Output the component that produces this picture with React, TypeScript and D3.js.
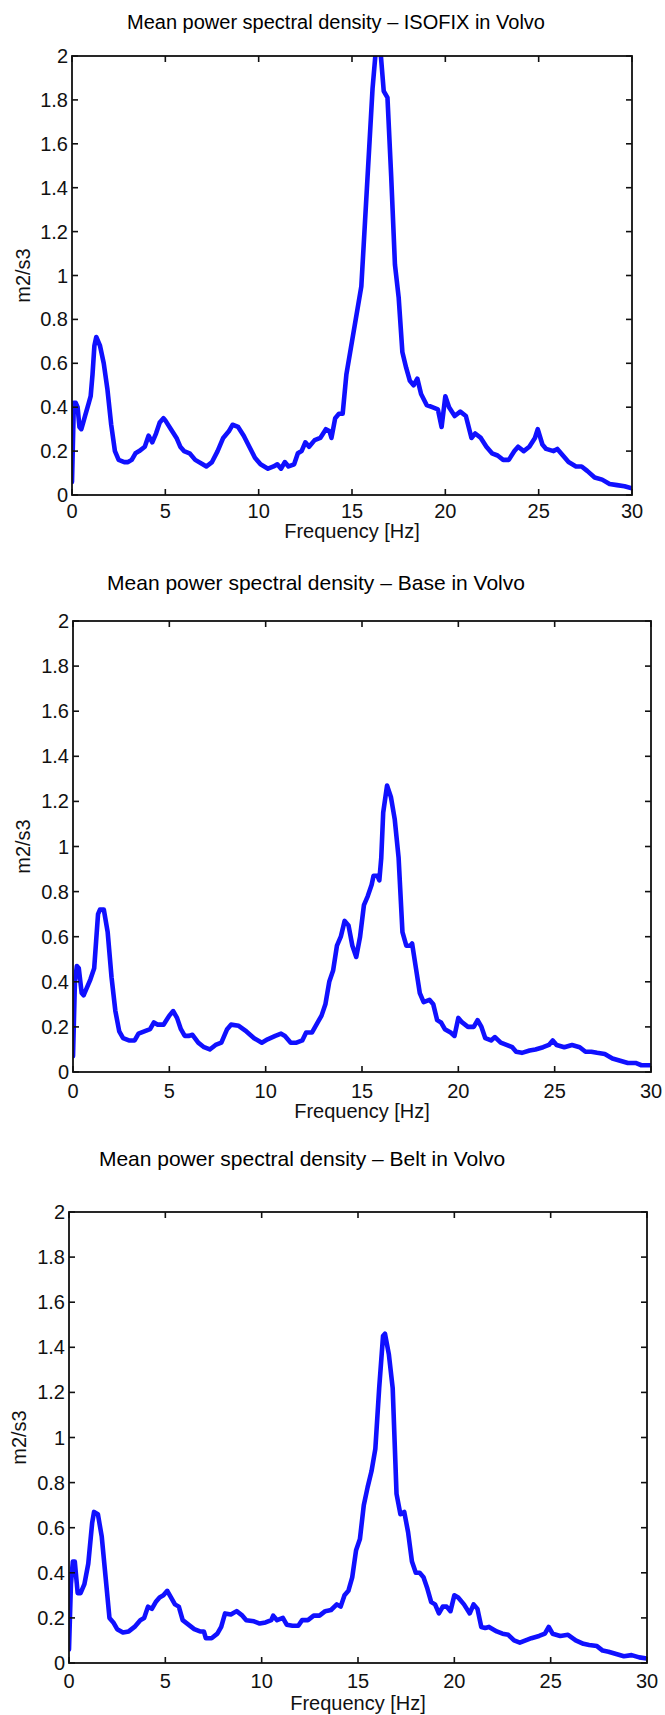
import React from "react";
import * as d3 from "d3";

// ---------- data ----------
const xTicks = [0, 5, 10, 15, 20, 25, 30];
const yTicks = [0, 0.2, 0.4, 0.6, 0.8, 1, 1.2, 1.4, 1.6, 1.8, 2];
const titles = [
  "Mean power spectral density \u2013 ISOFIX in Volvo",
  "Mean power spectral density \u2013 Base in Volvo",
  "Mean power spectral density \u2013 Belt in Volvo",
];
const xLabel = "Frequency [Hz]";
const yLabel = "m2/s3";

const isofixFreq = [0, 0.1, 0.2, 0.3, 0.4, 0.5, 0.6, 0.7, 0.9, 1.0, 1.1, 1.2, 1.3, 1.5, 1.7, 1.9, 2.1, 2.3, 2.5, 2.8, 3.0, 3.2, 3.4, 3.6, 3.9, 4.1, 4.3, 4.5, 4.7, 4.9, 5.0, 5.3, 5.6, 5.8, 6.0, 6.3, 6.6, 7.0, 7.2, 7.5, 7.8, 8.1, 8.4, 8.6, 8.9, 9.2, 9.5, 9.8, 10.1, 10.5, 10.8, 11.0, 11.2, 11.4, 11.6, 11.9, 12.1, 12.3, 12.5, 12.7, 13.0, 13.3, 13.6, 13.8, 13.9, 14.1, 14.3, 14.5, 14.7, 15.0, 15.3, 15.5, 15.7, 15.9, 16.1, 16.3, 16.5, 16.7, 16.9, 17.1, 17.3, 17.5, 17.7, 17.9, 18.1, 18.3, 18.5, 18.7, 19.0, 19.3, 19.6, 19.8, 20.0, 20.2, 20.5, 20.8, 21.1, 21.4, 21.6, 21.9, 22.2, 22.5, 22.8, 23.1, 23.4, 23.7, 23.9, 24.2, 24.5, 24.8, 24.95, 25.2, 25.4, 25.8, 26.0, 26.3, 26.6, 27.0, 27.3, 27.6, 28.0, 28.4, 28.8, 29.2, 29.6, 30.0];
const isofixPsd = [0.06, 0.42, 0.42, 0.40, 0.31, 0.30, 0.33, 0.36, 0.42, 0.45, 0.55, 0.68, 0.72, 0.68, 0.60, 0.48, 0.32, 0.20, 0.16, 0.15, 0.15, 0.16, 0.19, 0.20, 0.22, 0.27, 0.24, 0.28, 0.33, 0.35, 0.34, 0.30, 0.26, 0.22, 0.20, 0.19, 0.16, 0.14, 0.13, 0.15, 0.20, 0.26, 0.29, 0.32, 0.31, 0.27, 0.22, 0.17, 0.14, 0.12, 0.13, 0.14, 0.12, 0.15, 0.13, 0.14, 0.19, 0.20, 0.24, 0.22, 0.25, 0.26, 0.30, 0.29, 0.26, 0.35, 0.37, 0.37, 0.55, 0.70, 0.85, 0.95, 1.25, 1.55, 1.85, 2.05, 2.05, 1.84, 1.81, 1.45, 1.05, 0.90, 0.65, 0.58, 0.52, 0.50, 0.53, 0.46, 0.41, 0.40, 0.39, 0.31, 0.45, 0.40, 0.36, 0.38, 0.36, 0.26, 0.28, 0.26, 0.22, 0.19, 0.18, 0.16, 0.16, 0.20, 0.22, 0.20, 0.22, 0.26, 0.30, 0.23, 0.21, 0.20, 0.21, 0.18, 0.15, 0.13, 0.13, 0.11, 0.08, 0.07, 0.05, 0.045, 0.04, 0.03];

const baseFreq = [0, 0.1, 0.2, 0.3, 0.45, 0.55, 0.7, 0.9, 1.1, 1.2, 1.3, 1.4, 1.6, 1.8, 2.0, 2.2, 2.4, 2.6, 2.9, 3.2, 3.4, 3.7, 4.0, 4.2, 4.4, 4.7, 5.0, 5.2, 5.4, 5.6, 5.8, 6.0, 6.2, 6.5, 6.8, 7.1, 7.4, 7.7, 8.0, 8.2, 8.6, 9.0, 9.4, 9.8, 10.1, 10.5, 10.8, 11.0, 11.3, 11.6, 11.9, 12.1, 12.4, 12.7, 12.9, 13.1, 13.3, 13.5, 13.7, 13.9, 14.1, 14.3, 14.5, 14.7, 14.9, 15.1, 15.3, 15.5, 15.6, 15.8, 15.9, 16.0, 16.1, 16.3, 16.5, 16.7, 16.9, 17.1, 17.3, 17.5, 17.6, 17.8, 18.0, 18.2, 18.5, 18.7, 18.9, 19.1, 19.3, 19.6, 19.8, 20.0, 20.2, 20.5, 20.8, 21.0, 21.2, 21.4, 21.7, 21.9, 22.2, 22.5, 22.8, 23.0, 23.3, 23.7, 24.0, 24.4, 24.7, 24.9, 25.1, 25.5, 25.9, 26.3, 26.6, 26.9, 27.2, 27.6, 28.0, 28.4, 28.8, 29.2, 29.5, 30.0];
const basePsd = [0.07, 0.40, 0.47, 0.46, 0.35, 0.34, 0.37, 0.41, 0.46, 0.58, 0.70, 0.72, 0.72, 0.62, 0.42, 0.27, 0.18, 0.15, 0.14, 0.14, 0.17, 0.18, 0.19, 0.22, 0.21, 0.21, 0.25, 0.27, 0.24, 0.19, 0.16, 0.16, 0.165, 0.13, 0.11, 0.10, 0.12, 0.13, 0.19, 0.21, 0.205, 0.18, 0.15, 0.13, 0.145, 0.16, 0.17, 0.16, 0.13, 0.13, 0.14, 0.175, 0.175, 0.22, 0.25, 0.30, 0.40, 0.45, 0.56, 0.60, 0.67, 0.65, 0.56, 0.51, 0.60, 0.74, 0.78, 0.83, 0.87, 0.87, 0.85, 0.95, 1.15, 1.27, 1.22, 1.12, 0.95, 0.62, 0.56, 0.56, 0.57, 0.46, 0.35, 0.31, 0.32, 0.30, 0.23, 0.22, 0.19, 0.175, 0.16, 0.24, 0.22, 0.20, 0.20, 0.23, 0.20, 0.15, 0.14, 0.155, 0.13, 0.12, 0.11, 0.09, 0.085, 0.095, 0.10, 0.11, 0.12, 0.14, 0.12, 0.11, 0.12, 0.11, 0.09, 0.09, 0.085, 0.08, 0.06, 0.05, 0.04, 0.04, 0.03, 0.03];

const beltFreq = [0, 0.1, 0.2, 0.3, 0.45, 0.6, 0.8, 1.0, 1.2, 1.3, 1.5, 1.7, 1.9, 2.1, 2.3, 2.5, 2.8, 3.1, 3.4, 3.7, 3.9, 4.1, 4.3, 4.5, 4.7, 4.9, 5.1, 5.3, 5.5, 5.7, 5.9, 6.2, 6.5, 6.8, 7.0, 7.1, 7.4, 7.7, 7.9, 8.1, 8.4, 8.7, 9.0, 9.2, 9.6, 9.9, 10.2, 10.5, 10.6, 10.8, 11.1, 11.3, 11.6, 11.9, 12.1, 12.4, 12.7, 13.0, 13.3, 13.6, 13.9, 14.1, 14.3, 14.5, 14.7, 14.9, 15.1, 15.3, 15.5, 15.7, 15.9, 16.1, 16.3, 16.4, 16.6, 16.8, 17.0, 17.2, 17.4, 17.6, 17.8, 18.0, 18.2, 18.4, 18.6, 18.8, 19.0, 19.2, 19.4, 19.6, 19.8, 20.0, 20.2, 20.5, 20.8, 21.0, 21.2, 21.4, 21.6, 21.8, 22.2, 22.5, 22.8, 23.1, 23.4, 23.7, 24.0, 24.4, 24.7, 24.9, 25.1, 25.5, 25.9, 26.3, 26.7, 27.0, 27.4, 27.7, 28.0, 28.4, 28.8, 29.2, 29.6, 30.0];
const beltPsd = [0.06, 0.35, 0.45, 0.45, 0.31, 0.31, 0.35, 0.44, 0.62, 0.67, 0.66, 0.56, 0.38, 0.20, 0.18, 0.15, 0.135, 0.14, 0.16, 0.19, 0.20, 0.25, 0.24, 0.27, 0.29, 0.30, 0.32, 0.29, 0.26, 0.25, 0.19, 0.17, 0.15, 0.14, 0.14, 0.11, 0.11, 0.13, 0.16, 0.22, 0.215, 0.23, 0.21, 0.19, 0.185, 0.175, 0.18, 0.19, 0.21, 0.19, 0.20, 0.17, 0.165, 0.165, 0.19, 0.19, 0.21, 0.21, 0.23, 0.235, 0.26, 0.25, 0.30, 0.32, 0.38, 0.50, 0.55, 0.70, 0.78, 0.85, 0.95, 1.22, 1.45, 1.46, 1.37, 1.22, 0.75, 0.66, 0.67, 0.58, 0.45, 0.40, 0.40, 0.38, 0.33, 0.27, 0.26, 0.22, 0.25, 0.25, 0.23, 0.30, 0.29, 0.26, 0.22, 0.26, 0.24, 0.16, 0.155, 0.16, 0.14, 0.13, 0.125, 0.10, 0.09, 0.10, 0.11, 0.12, 0.13, 0.16, 0.13, 0.12, 0.125, 0.10, 0.085, 0.08, 0.075, 0.055, 0.05, 0.04, 0.03, 0.035, 0.025, 0.02];

const series = [
  { freq: isofixFreq, psd: isofixPsd },
  { freq: baseFreq, psd: basePsd },
  { freq: beltFreq, psd: beltPsd },
];

// ---------- layout (styling) ----------
const layouts = [
  { left: 72, right: 632, top: 56, bottom: 495, titleX: 336, titleY: 29, titleSize: 20, yLabX: 30, tickLabY: 518, xLabY: 538 },
  { left: 73, right: 651, top: 621, bottom: 1072, titleX: 316, titleY: 590, titleSize: 21, yLabX: 30, tickLabY: 1098, xLabY: 1118 },
  { left: 69, right: 647, top: 1212, bottom: 1663, titleX: 302, titleY: 1166, titleSize: 21, yLabX: 26, tickLabY: 1688, xLabY: 1710 },
];

const FONT = "'Liberation Sans', Arial, Helvetica, sans-serif";
const TICK = 6;

function Panel({ idx }: { idx: number }) {
  const L = layouts[idx];
  const s = series[idx];
  const x = d3.scaleLinear().domain([0, 30]).range([L.left, L.right]);
  const y = d3.scaleLinear().domain([0, 2]).range([L.bottom, L.top]);
  const pts = s.freq.map((f, i) => [f, s.psd[i]] as [number, number]);
  const line = d3
    .line<[number, number]>()
    .x((d) => x(d[0]))
    .y((d) => y(d[1]));
  const clipId = `clip${idx}`;
  return (
    <g>
      <defs>
        <clipPath id={clipId}>
          <rect x={L.left} y={L.top} width={L.right - L.left} height={L.bottom - L.top} />
        </clipPath>
      </defs>
      <text x={L.titleX} y={L.titleY} textAnchor="middle" fontSize={L.titleSize} fontFamily={FONT} fill="#000">
        {titles[idx]}
      </text>
      <path
        d={line(pts) || ""}
        fill="none"
        stroke="#1010ff"
        strokeWidth={4.6}
        strokeLinejoin="round"
        strokeLinecap="round"
        clipPath={`url(#${clipId})`}
      />
      <rect
        x={L.left}
        y={L.top}
        width={L.right - L.left}
        height={L.bottom - L.top}
        fill="none"
        stroke="#111"
        strokeWidth={1.8}
      />
      {xTicks.map((t) => (
        <g key={"xt" + t}>
          <line x1={x(t)} x2={x(t)} y1={L.bottom} y2={L.bottom - TICK} stroke="#111" strokeWidth={1.6} />
          <line x1={x(t)} x2={x(t)} y1={L.top} y2={L.top + TICK} stroke="#111" strokeWidth={1.6} />
          <text x={x(t)} y={L.tickLabY} textAnchor="middle" fontSize={20} fontFamily={FONT} fill="#111">
            {t}
          </text>
        </g>
      ))}
      {yTicks.map((t) => (
        <g key={"yt" + t}>
          <line x1={L.left} x2={L.left + TICK} y1={y(t)} y2={y(t)} stroke="#111" strokeWidth={1.6} />
          <line x1={L.right} x2={L.right - TICK} y1={y(t)} y2={y(t)} stroke="#111" strokeWidth={1.6} />
          <text
            x={L.left - 4}
            y={y(t)}
            dy="0.35em"
            textAnchor="end"
            fontSize={20}
            fontFamily={FONT}
            fill="#111"
          >
            {d3.format("~g")(t)}
          </text>
        </g>
      ))}
      <text
        x={(L.left + L.right) / 2}
        y={L.xLabY}
        textAnchor="middle"
        fontSize={20}
        fontFamily={FONT}
        fill="#111"
      >
        {xLabel}
      </text>
      <text
        transform={`translate(${L.yLabX},${(L.top + L.bottom) / 2}) rotate(-90)`}
        textAnchor="middle"
        fontSize={20}
        fontFamily={FONT}
        fill="#111"
      >
        {yLabel}
      </text>
    </g>
  );
}

export default function App() {
  return (
    <svg
      width={665}
      height={1715}
      viewBox="0 0 665 1715"
      style={{ position: "absolute", left: 0, top: 0, background: "#fff" }}
    >
      <rect x={0} y={0} width={665} height={1715} fill="#fff" />
      {[0, 1, 2].map((i) => (
        <Panel key={i} idx={i} />
      ))}
    </svg>
  );
}
